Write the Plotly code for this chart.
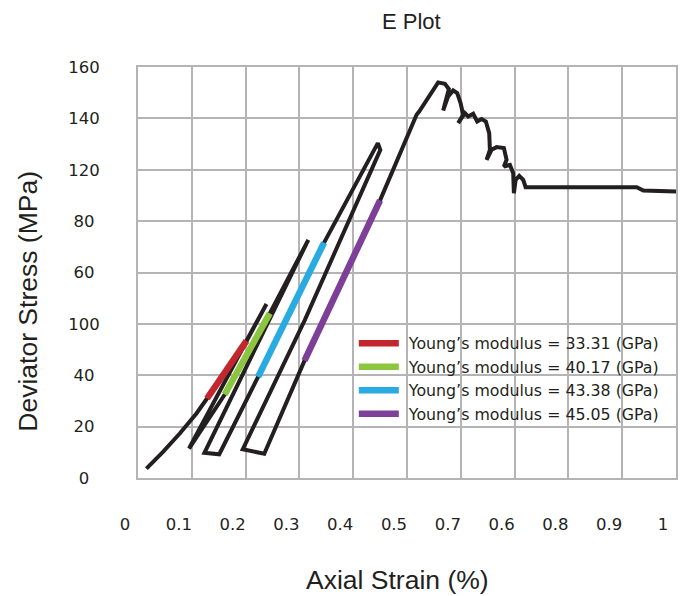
import plotly.graph_objects as go

# ---- data ----
strain = [0.0156, 0.0465, 0.0776, 0.1086, 0.1283, 0.2016, 0.2388, 0.0948, 0.1612, 0.2449,
          0.3165, 0.1235, 0.1510, 0.2232, 0.3459, 0.4384, 0.4458, 0.4504, 0.3100, 0.1947,
          0.2347, 0.3095, 0.4499, 0.5178, 0.5226, 0.5579, 0.5704, 0.5778, 0.5723, 0.5672,
          0.5765, 0.5858, 0.5933, 0.5996, 0.6044, 0.5951, 0.6076, 0.6137, 0.6230, 0.6305,
          0.6386, 0.6466, 0.6528, 0.6541, 0.6479, 0.6572, 0.6665, 0.6801, 0.6851, 0.6801,
          0.6913, 0.6974, 0.6987, 0.7019, 0.7086, 0.7160, 0.7205, 0.9269, 0.9392, 1.0074]
stress = [3.66, 10.14, 17.31, 25.11, 30.95, 53.41, 67.72, 11.46, 32.51, 64.09,
          92.67, 9.82, 9.24, 39.38, 91.62, 127.76, 130.37, 127.76, 61.48, 11.19,
          9.43, 45.69, 108.07, 141.40, 142.69, 154.0, 153.49, 151.42, 146.59, 143.08,
          148.54, 150.88, 149.86, 145.96, 141.40, 138.17, 142.07, 140.74, 141.79, 138.79,
          139.73, 138.79, 134.27, 127.76, 123.86, 127.76, 128.81, 128.42, 123.86, 121.25,
          121.91, 118.67, 110.88, 116.06, 117.62, 116.06, 113.22, 113.22, 111.89, 111.50]

moduli = ["33.31", "40.17", "43.38", "45.05"]
fit_strain = [[0.1283, 0.2016], [0.1612, 0.2449], [0.2232, 0.3459], [0.3095, 0.4499]]
fit_stress = [[30.95, 53.41], [32.51, 64.09], [39.38, 91.62], [45.69, 108.07]]
fit_colors = ["#c1272d", "#8cc63f", "#29abe2", "#7e3f98"]

x_ticks = [0, 0.1, 0.2, 0.3, 0.4, 0.5, 0.6, 0.7, 0.8, 0.9, 1.0]
x_tick_text = ["0", "0.1", "0.2", "0.3", "0.4", "0.5", "0.7", "0.6", "0.8", "0.9", "1"]
y_ticks = [0, 20, 40, 60, 80, 100, 120, 140, 160]
y_tick_text = ["0", "20", "40", "100", "60", "80", "120", "140", "160"]

TXT = "#231f20"
GRID = "#b4b4b6"
FONT = "Liberation Sans"
TFONT = "DejaVu Sans"
NBSP = "\u00a0"

# y tick labels are centred in the reference: pad shorter labels on the right
y_tick_labels = [t + NBSP * (3 - len(t)) for t in y_tick_text]

fig = go.Figure()
fig.add_trace(go.Scatter(x=strain, y=stress, mode="lines",
                         line=dict(color=TXT, width=4), showlegend=False,
                         cliponaxis=False, hoverinfo="skip"))
for m, xs, ys, c in zip(moduli, fit_strain, fit_stress, fit_colors):
    fig.add_trace(go.Scatter(x=xs, y=ys, mode="lines",
                             line=dict(color=c, width=6.5),
                             name=f"{NBSP}Young’s modulus = {m} (GPa)"))

# white legend background box
fig.add_shape(type="rect", xref="paper", yref="paper",
              x0=0.3837, x1=0.9926, y0=0.0724, y1=0.3989,
              fillcolor="white", line=dict(width=0), layer="between")

fig.update_layout(
    width=689, height=596,
    margin=dict(l=138.3, r=13, t=67.3, b=118.3),
    paper_bgcolor="white", plot_bgcolor="white",
    font=dict(family=TFONT, color=TXT, size=16.5),
    showlegend=True,
    legend=dict(x=(354 - 138.3) / 537.7, y=(477.7 - 326.3) / 410.4,
                xanchor="left", yanchor="top",
                bgcolor="rgba(0,0,0,0)", borderwidth=0,
                font=dict(family=TFONT, size=15.8, color=TXT),
                itemwidth=40),
    xaxis=dict(range=[0, 1], tickvals=x_ticks, ticktext=x_tick_text,
               showgrid=True, gridcolor=GRID, gridwidth=2,
               showline=True, linecolor=GRID, linewidth=2, mirror=True,
               zeroline=False, ticks="", ticklabelstandoff=30,
               ticklabelshift=-13, tickfont=dict(size=16.5, color=TXT, family=TFONT)),
    yaxis=dict(range=[0, 160], tickvals=y_ticks, ticktext=y_tick_labels,
               showgrid=True, gridcolor=GRID, gridwidth=2,
               showline=True, linecolor=GRID, linewidth=2, mirror=True,
               zeroline=False, ticks="", ticklabelstandoff=33,
               tickfont=dict(size=16.5, color=TXT, family=TFONT)),
    annotations=[
        dict(text="E Plot", xref="paper", yref="paper", x=0.5086, y=1.110,
             showarrow=False, xanchor="center", yanchor="middle",
             font=dict(size=22, color=TXT, family=FONT)),
        dict(text="Axial Strain (%)", xref="paper", yref="paper", x=0.483, y=-0.249,
             showarrow=False, xanchor="center", yanchor="middle",
             font=dict(size=26.5, color=TXT, family=FONT)),
        dict(text="Deviator Stress (MPa)", xref="paper", yref="paper", x=-0.2051, y=0.4306,
             showarrow=False, xanchor="center", yanchor="middle", textangle=-90,
             font=dict(size=26.5, color=TXT, family=FONT)),
    ],
)

fig.write_html("out.html")
